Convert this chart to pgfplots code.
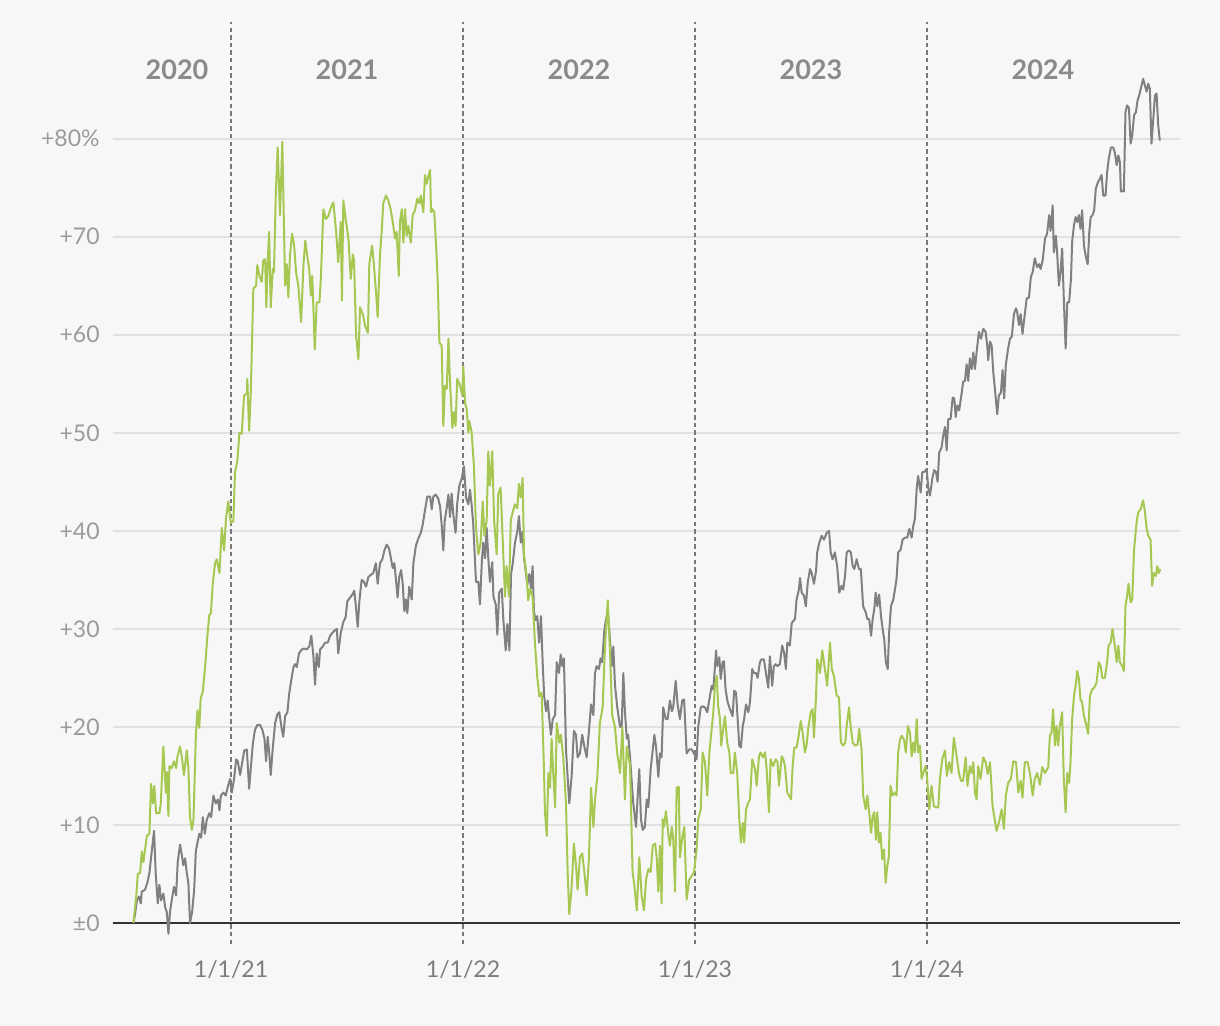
\documentclass[border=0pt]{standalone}
\usepackage{fontspec}
\setmainfont{Lato}
\usepackage{pgfplots}
\usepackage{pgfplotstable}
\pgfplotsset{compat=1.18}
\definecolor{bg}{RGB}{247,247,247}
\definecolor{lime}{RGB}{166,200,82}
\definecolor{stone}{RGB}{128,128,128}
\definecolor{gridc}{RGB}{225,225,225}
\definecolor{ylab}{RGB}{155,155,155}
\definecolor{xlab}{RGB}{125,125,125}
\definecolor{yearc}{RGB}{138,138,138}
\definecolor{dashc}{RGB}{120,120,120}

\pgfplotstableread{
t v
2020.579 0.0
2020.591 2.7
2020.598 5.0
2020.608 5.1
2020.615 7.3
2020.622 6.2
2020.637 8.9
2020.648 9.1
2020.655 14.2
2020.663 12.2
2020.669 14.0
2020.677 11.2
2020.691 11.2
2020.697 12.2
2020.708 18.0
2020.719 13.3
2020.723 15.4
2020.730 10.9
2020.734 16.0
2020.744 15.8
2020.754 16.5
2020.763 15.8
2020.769 17.0
2020.780 18.0
2020.788 16.9
2020.797 15.1
2020.809 17.6
2020.816 15.8
2020.823 10.8
2020.831 9.5
2020.838 10.5
2020.848 19.0
2020.855 21.7
2020.863 19.9
2020.869 22.9
2020.878 23.6
2020.888 26.1
2020.898 29.3
2020.906 31.4
2020.913 31.6
2020.921 34.6
2020.931 36.7
2020.938 37.1
2020.950 35.7
2020.960 40.3
2020.970 38.0
2020.978 41.2
2020.988 43.0
2020.999 40.8
2021.010 41.0
2021.017 46.0
2021.027 47.1
2021.036 50.0
2021.046 49.9
2021.056 53.8
2021.068 54.0
2021.070 55.5
2021.078 50.2
2021.085 54.1
2021.096 64.7
2021.108 65.0
2021.113 67.1
2021.122 66.0
2021.132 65.4
2021.139 67.6
2021.147 67.7
2021.152 62.8
2021.158 67.4
2021.164 70.5
2021.171 62.8
2021.180 66.7
2021.185 66.4
2021.193 74.5
2021.201 79.1
2021.211 72.2
2021.221 79.7
2021.228 71.1
2021.233 65.0
2021.240 67.2
2021.247 63.8
2021.254 68.1
2021.263 70.3
2021.272 69.1
2021.280 66.4
2021.290 65.0
2021.302 61.3
2021.312 67.1
2021.320 69.6
2021.328 68.1
2021.337 66.7
2021.344 64.0
2021.350 66.0
2021.361 58.5
2021.369 63.3
2021.381 63.3
2021.387 65.7
2021.398 72.8
2021.409 71.8
2021.419 72.1
2021.431 73.0
2021.441 73.5
2021.453 70.5
2021.462 67.4
2021.473 71.5
2021.478 63.5
2021.484 73.7
2021.494 71.8
2021.506 69.8
2021.516 65.7
2021.525 68.2
2021.530 67.6
2021.539 59.9
2021.549 57.5
2021.556 62.8
2021.568 62.1
2021.578 60.9
2021.590 60.2
2021.596 67.2
2021.608 69.1
2021.616 67.1
2021.625 64.3
2021.632 61.8
2021.642 68.1
2021.650 70.8
2021.656 73.4
2021.668 74.2
2021.678 73.7
2021.688 72.8
2021.697 71.5
2021.707 69.8
2021.714 70.5
2021.723 66.0
2021.728 71.5
2021.736 72.8
2021.743 69.4
2021.750 72.8
2021.757 70.1
2021.764 71.1
2021.775 69.4
2021.783 72.2
2021.793 72.7
2021.803 73.9
2021.812 73.4
2021.818 74.2
2021.829 72.5
2021.836 76.3
2021.843 75.4
2021.850 76.1
2021.858 76.8
2021.862 72.5
2021.869 72.8
2021.876 72.5
2021.884 69.1
2021.891 65.4
2021.898 59.2
2021.908 58.9
2021.915 50.7
2021.922 54.8
2021.930 54.5
2021.937 59.6
2021.944 55.1
2021.954 50.5
2021.961 52.1
2021.968 50.7
2021.975 55.5
2021.987 54.8
2021.997 53.8
2022.001 56.8
2022.009 53.0
2022.016 52.4
2022.023 50.0
2022.027 51.2
2022.037 50.1
2022.047 46.6
2022.056 40.3
2022.066 37.6
2022.076 38.8
2022.085 43.0
2022.092 39.5
2022.102 41.1
2022.109 48.1
2022.116 44.6
2022.126 48.1
2022.134 41.1
2022.145 37.6
2022.152 43.8
2022.162 44.4
2022.171 39.1
2022.181 33.3
2022.188 36.4
2022.198 33.3
2022.206 41.1
2022.214 41.9
2022.224 42.7
2022.234 42.3
2022.241 44.8
2022.249 43.4
2022.257 45.4
2022.263 37.6
2022.275 35.2
2022.281 32.9
2022.289 34.1
2022.300 33.3
2022.310 28.6
2022.320 25.1
2022.329 23.1
2022.339 23.5
2022.349 15.7
2022.353 11.4
2022.361 8.9
2022.368 15.3
2022.375 13.8
2022.382 18.8
2022.389 15.3
2022.397 11.8
2022.404 20.4
2022.415 18.4
2022.422 19.2
2022.432 16.9
2022.444 12.2
2022.451 5.2
2022.458 0.9
2022.468 3.6
2022.478 8.1
2022.487 5.9
2022.494 3.4
2022.504 6.7
2022.514 7.1
2022.523 5.2
2022.533 2.8
2022.543 6.7
2022.552 13.8
2022.562 9.8
2022.569 12.6
2022.579 14.9
2022.590 20.4
2022.602 22.0
2022.612 28.2
2022.624 32.9
2022.634 27.4
2022.643 21.2
2022.655 20.0
2022.665 17.3
2022.677 15.3
2022.687 20.0
2022.698 12.6
2022.706 18.0
2022.720 16.1
2022.731 5.2
2022.738 4.0
2022.749 1.3
2022.760 6.7
2022.770 2.8
2022.780 1.3
2022.789 4.4
2022.799 5.5
2022.809 5.2
2022.818 7.9
2022.828 8.1
2022.835 6.7
2022.842 3.2
2022.849 7.9
2022.856 2.0
2022.861 10.6
2022.866 9.8
2022.875 11.4
2022.885 9.1
2022.892 7.9
2022.900 9.8
2022.906 8.7
2022.914 3.2
2022.921 13.8
2022.930 13.9
2022.935 6.7
2022.945 8.7
2022.954 9.8
2022.964 2.4
2022.975 4.4
2022.986 4.8
2022.996 5.2
2023.007 7.5
2023.014 10.6
2023.025 11.6
2023.033 17.4
2023.043 16.4
2023.053 13.0
2023.062 17.4
2023.072 19.8
2023.079 21.5
2023.086 24.2
2023.094 25.2
2023.100 22.1
2023.108 20.8
2023.113 18.1
2023.122 19.8
2023.129 21.1
2023.139 18.4
2023.148 17.4
2023.154 15.3
2023.165 15.3
2023.172 17.4
2023.182 15.3
2023.191 10.6
2023.198 8.2
2023.206 10.2
2023.212 8.2
2023.220 11.6
2023.230 12.3
2023.237 12.6
2023.247 16.7
2023.259 15.7
2023.266 14.0
2023.276 17.0
2023.283 17.4
2023.292 16.9
2023.302 17.4
2023.309 15.7
2023.319 11.3
2023.326 16.7
2023.337 16.0
2023.348 16.7
2023.356 16.4
2023.362 14.0
2023.374 17.0
2023.381 16.7
2023.388 16.0
2023.398 13.3
2023.406 13.0
2023.414 12.6
2023.421 16.0
2023.428 17.9
2023.438 17.9
2023.447 19.1
2023.456 20.6
2023.464 19.4
2023.474 17.4
2023.481 18.1
2023.488 19.8
2023.499 21.5
2023.507 21.8
2023.513 18.9
2023.522 23.2
2023.527 26.9
2023.534 26.2
2023.539 25.5
2023.549 27.8
2023.560 25.9
2023.570 24.2
2023.582 28.6
2023.590 25.9
2023.599 25.2
2023.611 23.2
2023.621 23.0
2023.629 18.4
2023.639 18.1
2023.648 18.4
2023.654 20.1
2023.664 22.0
2023.671 20.1
2023.680 18.4
2023.690 18.1
2023.701 18.2
2023.708 19.8
2023.718 17.7
2023.725 13.0
2023.736 11.6
2023.743 13.0
2023.751 11.3
2023.759 9.2
2023.766 10.9
2023.773 11.3
2023.780 8.5
2023.786 11.3
2023.793 8.2
2023.800 9.2
2023.807 6.5
2023.815 7.5
2023.822 4.1
2023.829 5.8
2023.836 6.8
2023.843 14.0
2023.852 13.0
2023.862 13.3
2023.869 13.0
2023.876 17.4
2023.884 18.7
2023.891 19.1
2023.901 18.7
2023.909 17.4
2023.918 20.1
2023.927 19.4
2023.934 17.0
2023.941 18.4
2023.948 17.4
2023.956 20.8
2023.962 17.4
2023.970 18.1
2023.977 14.7
2023.984 15.3
2023.994 16.0
2024.001 14.7
2024.010 11.6
2024.020 14.0
2024.030 11.9
2024.039 11.8
2024.049 11.8
2024.056 14.7
2024.066 16.7
2024.078 17.6
2024.086 15.0
2024.096 16.4
2024.106 15.3
2024.116 18.9
2024.128 17.0
2024.138 15.3
2024.147 14.5
2024.156 14.5
2024.167 16.9
2024.175 14.0
2024.185 16.0
2024.193 15.3
2024.200 16.4
2024.207 13.3
2024.214 12.6
2024.221 16.0
2024.231 14.7
2024.243 16.9
2024.253 16.4
2024.262 15.2
2024.272 16.4
2024.283 11.9
2024.290 10.9
2024.300 9.4
2024.312 10.4
2024.322 11.6
2024.332 9.6
2024.340 13.0
2024.350 14.3
2024.362 14.7
2024.372 16.5
2024.384 16.4
2024.394 13.3
2024.404 14.5
2024.412 12.8
2024.422 16.4
2024.434 16.4
2024.444 15.3
2024.456 13.0
2024.465 14.7
2024.475 15.3
2024.487 14.1
2024.497 15.9
2024.509 15.3
2024.523 15.9
2024.530 19.1
2024.537 19.4
2024.544 21.8
2024.552 18.1
2024.559 20.1
2024.566 18.1
2024.573 20.1
2024.583 21.5
2024.590 14.7
2024.598 11.3
2024.605 15.3
2024.613 14.3
2024.619 16.4
2024.626 20.8
2024.634 23.2
2024.641 24.2
2024.648 25.7
2024.655 24.9
2024.662 22.8
2024.669 22.5
2024.677 21.1
2024.685 20.4
2024.695 19.3
2024.703 23.2
2024.712 23.8
2024.721 24.0
2024.731 24.5
2024.741 26.6
2024.749 26.2
2024.756 25.0
2024.767 25.0
2024.777 26.6
2024.783 28.3
2024.792 28.6
2024.800 30.0
2024.810 28.3
2024.818 26.6
2024.825 28.3
2024.832 26.6
2024.842 26.2
2024.849 25.7
2024.856 32.3
2024.863 33.4
2024.869 34.6
2024.878 32.7
2024.885 33.0
2024.893 38.1
2024.904 40.9
2024.911 41.9
2024.921 42.2
2024.932 43.1
2024.940 41.9
2024.947 40.3
2024.954 39.5
2024.964 39.1
2024.971 34.4
2024.978 35.7
2024.987 35.4
2024.993 36.4
2025.000 35.7
2025.006 36.1
}\greendata

\pgfplotstableread{
t v
2020.579 0.0
2020.586 0.9
2020.594 2.3
2020.603 2.7
2020.611 2.0
2020.615 3.2
2020.629 3.4
2020.639 4.1
2020.648 5.1
2020.658 7.3
2020.668 9.4
2020.675 5.1
2020.684 2.0
2020.691 3.9
2020.698 2.3
2020.708 3.0
2020.716 1.6
2020.723 1.1
2020.730 -1.1
2020.737 1.2
2020.744 2.3
2020.754 3.7
2020.763 2.8
2020.770 6.2
2020.780 8.0
2020.788 6.9
2020.794 5.9
2020.802 6.6
2020.809 5.1
2020.816 4.1
2020.823 0.0
2020.832 1.1
2020.841 3.4
2020.848 7.3
2020.856 8.3
2020.863 9.1
2020.871 8.7
2020.878 10.8
2020.887 9.1
2020.895 10.5
2020.906 11.2
2020.914 10.8
2020.924 13.0
2020.934 12.2
2020.943 12.6
2020.950 11.5
2020.956 13.0
2020.967 13.3
2020.977 13.0
2020.987 14.0
2020.996 14.7
2021.003 13.3
2021.013 14.7
2021.022 16.7
2021.029 16.5
2021.039 15.1
2021.049 16.5
2021.057 17.6
2021.068 17.7
2021.078 13.7
2021.085 15.8
2021.094 18.3
2021.103 19.7
2021.113 20.2
2021.125 20.2
2021.135 19.7
2021.144 18.8
2021.151 16.5
2021.158 19.0
2021.165 17.2
2021.171 15.1
2021.180 17.9
2021.190 20.4
2021.200 21.3
2021.208 21.5
2021.219 19.7
2021.225 19.0
2021.233 21.1
2021.243 21.5
2021.250 23.3
2021.259 24.7
2021.269 26.1
2021.276 26.4
2021.283 26.1
2021.293 27.5
2021.305 27.9
2021.315 28.0
2021.326 27.9
2021.337 28.2
2021.346 29.3
2021.355 27.2
2021.362 24.3
2021.369 27.5
2021.378 26.1
2021.384 27.9
2021.395 28.2
2021.405 28.6
2021.417 28.6
2021.427 29.3
2021.437 29.6
2021.445 29.8
2021.456 30.0
2021.462 27.5
2021.473 29.6
2021.484 30.7
2021.494 31.2
2021.501 32.8
2021.513 33.2
2021.523 33.5
2021.531 33.9
2021.539 32.1
2021.546 30.2
2021.553 32.8
2021.563 35.0
2021.573 34.8
2021.582 34.3
2021.592 35.3
2021.602 35.5
2021.613 35.7
2021.624 36.7
2021.632 34.6
2021.642 36.7
2021.652 37.1
2021.661 38.0
2021.671 38.6
2021.681 38.2
2021.690 37.1
2021.697 36.2
2021.704 36.7
2021.711 35.0
2021.718 33.2
2021.725 35.3
2021.733 36.0
2021.740 34.6
2021.747 31.8
2021.754 33.0
2021.760 31.6
2021.768 34.3
2021.779 33.0
2021.786 36.7
2021.797 38.5
2021.807 39.2
2021.818 39.8
2021.826 40.6
2021.836 42.1
2021.846 43.5
2021.858 43.5
2021.865 42.2
2021.872 43.5
2021.882 43.7
2021.893 43.3
2021.901 42.5
2021.908 40.6
2021.915 38.0
2021.921 41.0
2021.930 42.4
2021.937 43.7
2021.944 41.4
2021.951 43.8
2021.958 41.7
2021.968 39.8
2021.975 42.8
2021.984 44.6
2021.994 45.3
2022.004 46.6
2022.013 43.4
2022.023 42.7
2022.030 44.2
2022.037 42.7
2022.044 40.7
2022.056 34.8
2022.066 34.8
2022.073 32.5
2022.081 36.8
2022.087 38.8
2022.095 37.2
2022.102 40.3
2022.109 37.2
2022.116 34.8
2022.126 36.8
2022.131 33.3
2022.141 32.5
2022.148 29.4
2022.156 33.7
2022.167 34.1
2022.174 30.9
2022.184 27.8
2022.191 30.5
2022.200 27.8
2022.207 35.6
2022.214 36.6
2022.224 38.8
2022.234 39.9
2022.241 41.5
2022.249 38.8
2022.257 39.9
2022.263 37.2
2022.272 35.6
2022.277 34.5
2022.286 35.6
2022.293 34.1
2022.300 36.4
2022.306 31.7
2022.313 30.9
2022.320 31.3
2022.328 28.6
2022.336 31.3
2022.344 26.2
2022.350 23.1
2022.358 21.6
2022.365 22.7
2022.372 20.8
2022.379 19.2
2022.387 20.8
2022.397 21.2
2022.404 26.6
2022.414 25.5
2022.421 27.4
2022.428 26.2
2022.435 27.0
2022.444 17.7
2022.451 14.9
2022.458 12.2
2022.468 14.9
2022.478 19.6
2022.487 19.2
2022.494 16.9
2022.504 17.3
2022.514 19.2
2022.523 18.0
2022.533 16.9
2022.543 19.6
2022.552 22.3
2022.562 21.2
2022.569 25.5
2022.576 26.2
2022.586 25.9
2022.593 27.0
2022.600 26.6
2022.609 29.8
2022.616 30.9
2022.624 31.7
2022.631 29.8
2022.641 26.2
2022.648 28.2
2022.655 24.3
2022.665 22.0
2022.677 20.0
2022.684 20.0
2022.691 25.5
2022.698 21.6
2022.706 18.8
2022.712 19.2
2022.720 16.9
2022.727 14.5
2022.734 12.2
2022.746 9.8
2022.753 13.0
2022.760 15.7
2022.767 10.6
2022.775 9.5
2022.784 9.8
2022.792 12.6
2022.799 11.8
2022.809 15.7
2022.818 17.7
2022.825 19.2
2022.832 18.0
2022.842 14.9
2022.849 17.3
2022.856 16.9
2022.863 22.0
2022.874 20.8
2022.882 20.8
2022.892 22.7
2022.900 21.6
2022.906 22.0
2022.917 24.7
2022.925 22.3
2022.935 20.8
2022.945 22.7
2022.953 22.8
2022.964 17.3
2022.975 17.7
2022.986 17.7
2022.996 17.3
2023.007 16.7
2023.014 20.0
2023.025 22.0
2023.033 22.1
2023.043 22.0
2023.053 21.5
2023.062 22.8
2023.072 24.2
2023.079 23.8
2023.091 27.8
2023.096 26.2
2023.105 27.1
2023.111 24.9
2023.119 26.6
2023.125 26.7
2023.132 23.8
2023.141 22.5
2023.151 21.8
2023.162 21.1
2023.169 23.7
2023.177 23.5
2023.184 20.8
2023.191 18.1
2023.198 17.9
2023.206 20.1
2023.212 20.8
2023.220 22.3
2023.230 21.5
2023.237 22.5
2023.247 25.9
2023.254 25.5
2023.263 25.5
2023.270 25.0
2023.280 26.6
2023.287 26.9
2023.297 26.9
2023.306 25.5
2023.316 24.0
2023.323 27.2
2023.333 24.2
2023.340 26.2
2023.348 26.4
2023.356 26.2
2023.366 26.4
2023.376 28.3
2023.384 27.6
2023.392 25.9
2023.398 28.6
2023.409 28.3
2023.417 30.6
2023.424 30.8
2023.431 31.0
2023.438 33.0
2023.448 34.0
2023.453 35.2
2023.460 33.7
2023.470 33.4
2023.478 32.3
2023.486 34.7
2023.496 36.1
2023.503 35.7
2023.513 34.6
2023.522 35.9
2023.527 37.8
2023.536 38.8
2023.546 39.5
2023.556 39.1
2023.568 39.8
2023.578 40.0
2023.585 37.8
2023.593 37.1
2023.603 37.8
2023.613 36.4
2023.622 33.7
2023.632 34.4
2023.639 34.0
2023.647 35.4
2023.654 37.8
2023.664 38.0
2023.672 37.8
2023.680 36.4
2023.687 36.1
2023.697 37.1
2023.707 36.1
2023.715 36.1
2023.725 32.3
2023.736 31.7
2023.743 31.0
2023.751 31.0
2023.759 29.3
2023.766 31.0
2023.773 32.0
2023.779 33.7
2023.786 32.3
2023.794 33.5
2023.802 31.3
2023.809 30.0
2023.816 28.9
2023.823 26.6
2023.831 25.9
2023.837 29.6
2023.845 32.3
2023.855 33.0
2023.862 34.0
2023.869 35.1
2023.876 37.8
2023.887 38.1
2023.895 39.1
2023.905 39.3
2023.915 39.3
2023.924 40.2
2023.934 39.3
2023.941 40.5
2023.948 41.2
2023.956 44.3
2023.962 45.6
2023.973 43.9
2023.980 46.0
2023.988 46.0
2023.999 46.3
2024.006 44.3
2024.013 43.6
2024.023 45.3
2024.031 46.2
2024.039 46.0
2024.046 45.0
2024.053 48.0
2024.063 48.5
2024.070 49.7
2024.078 50.6
2024.085 48.2
2024.092 51.4
2024.102 51.4
2024.111 53.6
2024.118 53.5
2024.124 51.6
2024.131 52.8
2024.139 52.3
2024.150 54.1
2024.156 55.2
2024.164 55.3
2024.171 57.0
2024.178 55.3
2024.185 57.6
2024.193 56.5
2024.200 58.2
2024.207 56.5
2024.214 58.2
2024.224 60.3
2024.233 59.6
2024.243 60.6
2024.253 60.3
2024.260 58.9
2024.264 57.4
2024.272 59.3
2024.279 58.9
2024.286 56.2
2024.293 54.5
2024.303 51.9
2024.310 53.8
2024.319 54.1
2024.326 56.4
2024.333 53.5
2024.340 56.9
2024.350 58.6
2024.358 59.6
2024.366 59.8
2024.375 62.1
2024.384 62.7
2024.389 62.3
2024.397 61.0
2024.404 62.1
2024.412 60.1
2024.419 61.5
2024.430 63.7
2024.440 63.8
2024.448 65.9
2024.456 66.4
2024.465 67.8
2024.475 66.9
2024.484 67.2
2024.490 66.7
2024.499 67.6
2024.509 69.8
2024.518 70.3
2024.527 72.2
2024.533 70.6
2024.542 73.2
2024.547 68.4
2024.556 70.1
2024.562 68.1
2024.569 65.0
2024.576 66.4
2024.583 68.8
2024.590 63.7
2024.598 58.6
2024.605 63.3
2024.613 63.3
2024.621 65.7
2024.626 69.5
2024.634 71.2
2024.641 72.0
2024.648 71.5
2024.655 72.2
2024.662 70.8
2024.669 72.7
2024.677 69.1
2024.684 68.1
2024.693 67.2
2024.700 70.5
2024.706 72.0
2024.714 72.2
2024.721 72.7
2024.728 74.9
2024.738 75.6
2024.746 75.9
2024.753 76.3
2024.760 74.2
2024.770 74.2
2024.777 76.6
2024.784 78.0
2024.793 79.1
2024.803 79.1
2024.810 78.6
2024.818 77.3
2024.825 78.3
2024.832 77.6
2024.836 74.6
2024.843 74.7
2024.849 74.6
2024.856 82.7
2024.863 83.4
2024.871 83.1
2024.878 79.5
2024.885 80.3
2024.893 82.4
2024.901 82.7
2024.908 83.9
2024.915 84.4
2024.922 85.1
2024.932 86.1
2024.940 85.4
2024.947 84.8
2024.954 85.6
2024.961 85.1
2024.968 79.5
2024.975 81.7
2024.983 84.4
2024.990 84.6
2024.997 81.4
2025.004 79.8
}\graydata

\begin{document}
\begin{tikzpicture}
\fill[bg] (0,0) rectangle (610bp,513bp);
\begin{axis}[
  at={(56.5bp,41bp)}, anchor=south west,
  scale only axis, width=533.5bp, height=461bp,
  xmin=2020.491, xmax=2025.091, ymin=-2.14, ymax=91.9,
  axis line style={draw=none},
  major tick length=0pt,
  xtick=\empty,
  ytick={10,20,30,40,50,60,70,80},
  yticklabels={+10,+20,+30,+40,+50,+60,+70,+80\%},
  ymajorgrids,
  major grid style={draw=gridc, line width=0.9bp},
  yticklabel style={anchor=east, inner sep=0pt, xshift=-6.5bp, text=ylab,
    font=\fontsize{11.5bp}{13bp}\selectfont},
  extra y ticks={0},
  extra y tick labels={±0},
  extra y tick style={grid=major, major grid style={draw=black!80, line width=1.1bp}},
  extra x ticks={2021,2022,2023,2024},
  extra x tick labels={1/1/21,1/1/22,1/1/23,1/1/24},
  extra x tick style={grid=major, major grid style={draw=dashc, line width=0.75bp, dash pattern=on 2.2bp off 1.6bp}},
  xticklabel style={anchor=center, inner sep=0pt, yshift=-13bp, text=xlab,
    font=\fontsize{11.5bp}{13bp}\selectfont},
  clip=false,
]
\addplot[stone, line width=1bp, line join=round] table[x=t,y=v] {\graydata};
\addplot[lime, line width=1bp, line join=round] table[x=t,y=v] {\greendata};
\begin{scope}[every node/.style={font=\bfseries\fontsize{13.5bp}{16bp}\selectfont, text=yearc}]
\node at (axis cs:2020.767,87) {2020};
\node at (axis cs:2021.5,87) {2021};
\node at (axis cs:2022.5,87) {2022};
\node at (axis cs:2023.5,87) {2023};
\node at (axis cs:2024.5,87) {2024};
\end{scope}
\end{axis}
\pgfresetboundingbox
\useasboundingbox (0,0) rectangle (610bp,513bp);
\end{tikzpicture}
\end{document}
